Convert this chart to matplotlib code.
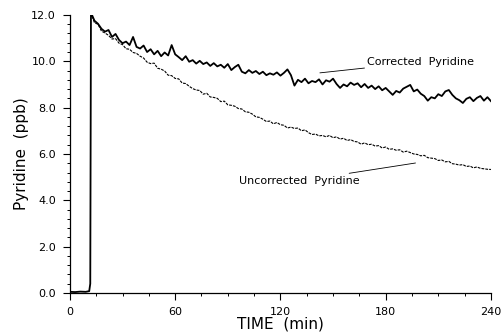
import matplotlib
matplotlib.use("Agg")
import matplotlib.pyplot as plt
import numpy as np
from matplotlib.ticker import MultipleLocator

# baseline before the injection (min, ppb)
base_time = [0, 3, 6, 9, 11, 11.6]
base_ppb = [0.05, 0.04, 0.06, 0.05, 0.08, 0.40]

# time axis for both traces, every 2 min from 12 to 240
time_min = list(range(12, 241, 2))

corrected = [
    12.10, 11.75, 11.62, 11.40, 11.28, 11.35, 11.05, 11.18, 10.92, 10.78,
    10.85, 10.70, 11.05, 10.62, 10.55, 10.68, 10.40, 10.52, 10.30, 10.45,
    10.22, 10.38, 10.25, 10.70, 10.30, 10.18, 10.05, 10.22, 9.98, 10.05,
    9.90, 10.02, 9.88, 9.95, 9.80, 9.92, 9.78, 9.85, 9.72, 9.88,
    9.62, 9.75, 9.85, 9.55, 9.48, 9.62, 9.50, 9.58, 9.45, 9.55,
    9.40, 9.48, 9.42, 9.52, 9.38, 9.50, 9.65, 9.40, 8.95, 9.20,
    9.10, 9.25, 9.05, 9.15, 9.10, 9.22, 9.00, 9.18, 9.12, 9.25,
    9.02, 8.85, 9.00, 8.92, 9.08, 8.98, 9.05, 8.88, 9.02, 8.85,
    8.95, 8.80, 8.92, 8.75, 8.85, 8.70, 8.55, 8.72, 8.65, 8.82,
    8.90, 8.98, 8.70, 8.78, 8.60, 8.50, 8.30, 8.45, 8.40, 8.58,
    8.50, 8.70, 8.76, 8.55, 8.40, 8.32, 8.20, 8.38, 8.45, 8.28,
    8.42, 8.50, 8.30, 8.45, 8.28,
]

uncorrected = [
    12.10, 11.66, 11.60, 11.30, 11.22, 11.12, 10.96, 10.98, 10.78, 10.72,
    10.54, 10.52, 10.38, 10.34, 10.22, 10.14, 9.96, 9.90, 9.92, 9.70,
    9.66, 9.58, 9.40, 9.38, 9.26, 9.24, 9.06, 9.04, 8.92, 8.82,
    8.76, 8.74, 8.58, 8.62, 8.46, 8.44, 8.40, 8.26, 8.28, 8.12,
    8.10, 8.06, 7.96, 7.94, 7.82, 7.80, 7.72, 7.60, 7.58, 7.50,
    7.40, 7.42, 7.30, 7.36, 7.26, 7.24, 7.12, 7.16, 7.10, 7.12,
    7.00, 7.04, 6.92, 6.84, 6.86, 6.78, 6.80, 6.74, 6.80, 6.70,
    6.74, 6.64, 6.68, 6.58, 6.62, 6.54, 6.52, 6.42, 6.48, 6.40,
    6.42, 6.34, 6.36, 6.26, 6.30, 6.20, 6.22, 6.16, 6.18, 6.08,
    6.12, 6.06, 6.00, 5.98, 5.92, 5.94, 5.84, 5.82, 5.80, 5.72,
    5.74, 5.66, 5.68, 5.58, 5.56, 5.52, 5.54, 5.46, 5.48, 5.40,
    5.44, 5.38, 5.36, 5.34, 5.33,
]

fig = plt.figure(figsize=(5.03, 3.32), dpi=100)
ax = fig.add_axes([0.139, 0.1175, 0.837, 0.8375])

ax.plot(base_time + time_min, base_ppb + corrected, color="black", lw=1.3)
ax.plot(time_min, uncorrected, color="black", lw=0.8, ls=(0, (2.5, 1)))

ax.set_xlim(0, 240)
ax.set_ylim(0, 12)
ax.xaxis.set_major_locator(MultipleLocator(60))
ax.xaxis.set_minor_locator(MultipleLocator(15))
ax.yaxis.set_major_locator(MultipleLocator(2))
ax.yaxis.set_minor_locator(MultipleLocator(0.4))
ax.yaxis.set_major_formatter(lambda v, pos: f"{v:.1f}")
ax.tick_params(which="major", length=5, width=0.8, labelsize=8, pad=5)
ax.tick_params(which="minor", length=2.5, width=0.7)
for s in ["top", "right"]:
    ax.spines[s].set_visible(False)
ax.spines["left"].set_linewidth(0.9)
ax.spines["bottom"].set_linewidth(0.9)

ax.set_xlabel("TIME  (min)", fontsize=11, labelpad=0)
ax.set_ylabel("Pyridine  (ppb)", fontsize=11, labelpad=2)

# leader labels
ax.annotate("Corrected  Pyridine", xy=(142.5, 9.5), xytext=(169.5, 9.97),
            fontsize=8, va="center", ha="left",
            arrowprops=dict(arrowstyle="-", color="black", lw=0.6,
                            shrinkA=0, shrinkB=0))
ax.annotate("Uncorrected  Pyridine", xy=(197, 5.61), xytext=(165, 4.83),
            fontsize=8, va="center", ha="right",
            arrowprops=dict(arrowstyle="-", color="black", lw=0.6,
                            shrinkA=0, shrinkB=0))

fig.savefig("out.png", dpi=100)
